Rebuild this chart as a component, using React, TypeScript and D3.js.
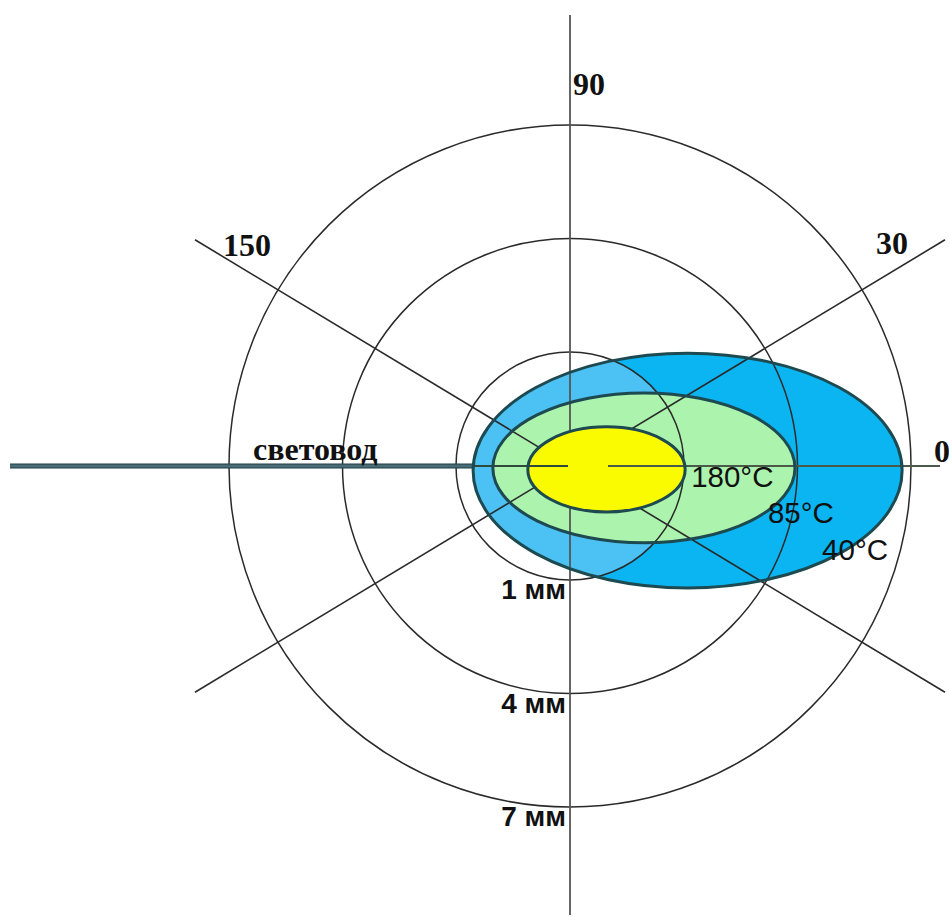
import React from "react";
import * as d3 from "d3";

// ring distances (mm) and their labels
const ringValues = [1, 4, 7];
const ringLabels = ["1 мм", "4 мм", "7 мм"];

// radial direction lines (degrees, as drawn) and their labels
const spokeAngles = [31.1, 90, 148.9];
const spokeLabels = ["30", "90", "150"];
const zeroLabel = "0";

// isotherms: extents along the axis in mm (left/right of fibre tip), half height, vertical offset
const isoTemps = ["40°C", "85°C", "180°C"];
const isoLeft = [-2.55, -2.03, -1.11];
const isoRight = [8.74, 5.92, 3.03];
const isoHalfHeight = [3.09, 1.97, 1.12];
const isoOffsetY = [0.12, 0.05, 0.09];

const fibreLabel = "световод";

export default function App() {
  const W = 949, H = 917;
  const cx = 570, cy = 466;
  const rScale = d3.scaleLinear().domain([1, 7]).range([114, 341]);
  const mm = d3.scaleLinear().domain([0, 1]).range([0, 38]);

  const ell = isoTemps.map((t, i) => {
    const l = cx + mm(isoLeft[i]);
    const r = cx + mm(isoRight[i]);
    return {
      t,
      ex: (l + r) / 2,
      ey: cy + mm(isoOffsetY[i]),
      rx: (r - l) / 2,
      ry: mm(isoHalfHeight[i]),
      right: r,
    };
  });
  const [blue, green, yellow] = ell;

  const gridColor = "#2a2a2a";
  const outline = "#1d4a50";
  const spokeLenX = 375;

  const spokes = spokeAngles.map((a) => {
    const rad = (a * Math.PI) / 180;
    if (a === 90) return { x1: cx, y1: 15, x2: cx, y2: 915 };
    const dx = spokeLenX;
    const dy = Math.tan(rad) * spokeLenX;
    return { x1: cx - dx, y1: cy + dy, x2: cx + dx, y2: cy - dy };
  });

  const serif = "'Liberation Serif', 'Times New Roman', serif";
  const sans = "'Liberation Sans', Arial, sans-serif";

  return (
    <svg
      width={W}
      height={H}
      style={{ position: "absolute", left: 0, top: 0, background: "#fff" }}
    >
      <defs>
        <clipPath id="innerRing">
          <circle cx={cx} cy={cy} r={rScale(1)} />
        </clipPath>
        <linearGradient
          id="fibre"
          gradientUnits="userSpaceOnUse"
          x1={0}
          y1={cy - 2.5}
          x2={0}
          y2={cy + 2.5}
        >
          <stop offset="0" stopColor="#1d3d45" />
          <stop offset="0.5" stopColor="#557880" />
          <stop offset="1" stopColor="#1d3d45" />
        </linearGradient>
      </defs>
      <rect width={W} height={H} fill="#fff" />

      {/* blue isotherm fill */}
      <ellipse cx={blue.ex} cy={blue.ey} rx={blue.rx} ry={blue.ry} fill="#0ab5f1" />
      <ellipse
        cx={blue.ex}
        cy={blue.ey}
        rx={blue.rx}
        ry={blue.ry}
        fill="#4cc2f4"
        clipPath="url(#innerRing)"
      />
      <ellipse cx={green.ex} cy={green.ey} rx={green.rx} ry={green.ry} fill="#acf4ad" />

      {/* grid */}
      {ringValues.map((v) => (
        <circle
          key={v}
          cx={cx}
          cy={cy}
          r={rScale(v)}
          fill="none"
          stroke={gridColor}
          strokeWidth={1.5}
        />
      ))}
      {spokes.map((s, i) => (
        <line
          key={i}
          x1={s.x1}
          y1={s.y1}
          x2={s.x2}
          y2={s.y2}
          stroke={i === 1 ? "#555" : gridColor}
          strokeWidth={i === 1 ? 1.8 : 1.6}
        />
      ))}

      {/* yellow core */}
      <ellipse cx={yellow.ex} cy={yellow.ey} rx={yellow.rx} ry={yellow.ry} fill="#fbfb00" />

      {/* fibre and 0-degree axis */}
      <line x1={10} y1={cy} x2={blue.ex - blue.rx} y2={cy} stroke="url(#fibre)" strokeWidth={5} />
      <line x1={blue.ex - blue.rx} y1={cy} x2={cx - 2} y2={cy} stroke="#2f4a3a" strokeWidth={2.2} />
      <line x1={cx + 38} y1={cy} x2={940} y2={cy} stroke="#4a5a4a" strokeWidth={1.8} />

      {/* outlines */}
      {ell.map((e) => (
        <ellipse
          key={e.t}
          cx={e.ex}
          cy={e.ey}
          rx={e.rx}
          ry={e.ry}
          fill="none"
          stroke={outline}
          strokeWidth={3}
        />
      ))}

      {/* spoke labels */}
      <text x={573} y={95} fontFamily={serif} fontWeight="bold" fontSize={32} fill="#111">
        {spokeLabels[1]}
      </text>
      <text x={223} y={256} fontFamily={serif} fontWeight="bold" fontSize={32} fill="#111">
        {spokeLabels[2]}
      </text>
      <text x={876} y={254} fontFamily={serif} fontWeight="bold" fontSize={32} fill="#111">
        {spokeLabels[0]}
      </text>
      <text x={934} y={462} fontFamily={serif} fontWeight="bold" fontSize={32} fill="#111">
        {zeroLabel}
      </text>

      <text x={253} y={460} fontFamily={serif} fontWeight="bold" fontSize={32} fill="#111">
        {fibreLabel}
      </text>

      {/* ring labels */}
      {ringValues.map((v, i) => (
        <text
          key={v}
          x={566}
          y={cy + rScale(v) + 19}
          textAnchor="end"
          fontFamily={sans}
          fontWeight="bold"
          fontSize={28}
          fill="#111"
        >
          {ringLabels[i]}
        </text>
      ))}

      {/* isotherm labels */}
      <text x={yellow.right + 6} y={cy + 21} fontFamily={sans} fontSize={29.5} fill="#111">
        {yellow.t}
      </text>
      <text x={green.right - 27} y={cy + 57} fontFamily={sans} fontSize={29.5} fill="#111">
        {green.t}
      </text>
      <text x={blue.right - 80} y={cy + 94} fontFamily={sans} fontSize={29.5} fill="#111">
        {blue.t}
      </text>
    </svg>
  );
}
